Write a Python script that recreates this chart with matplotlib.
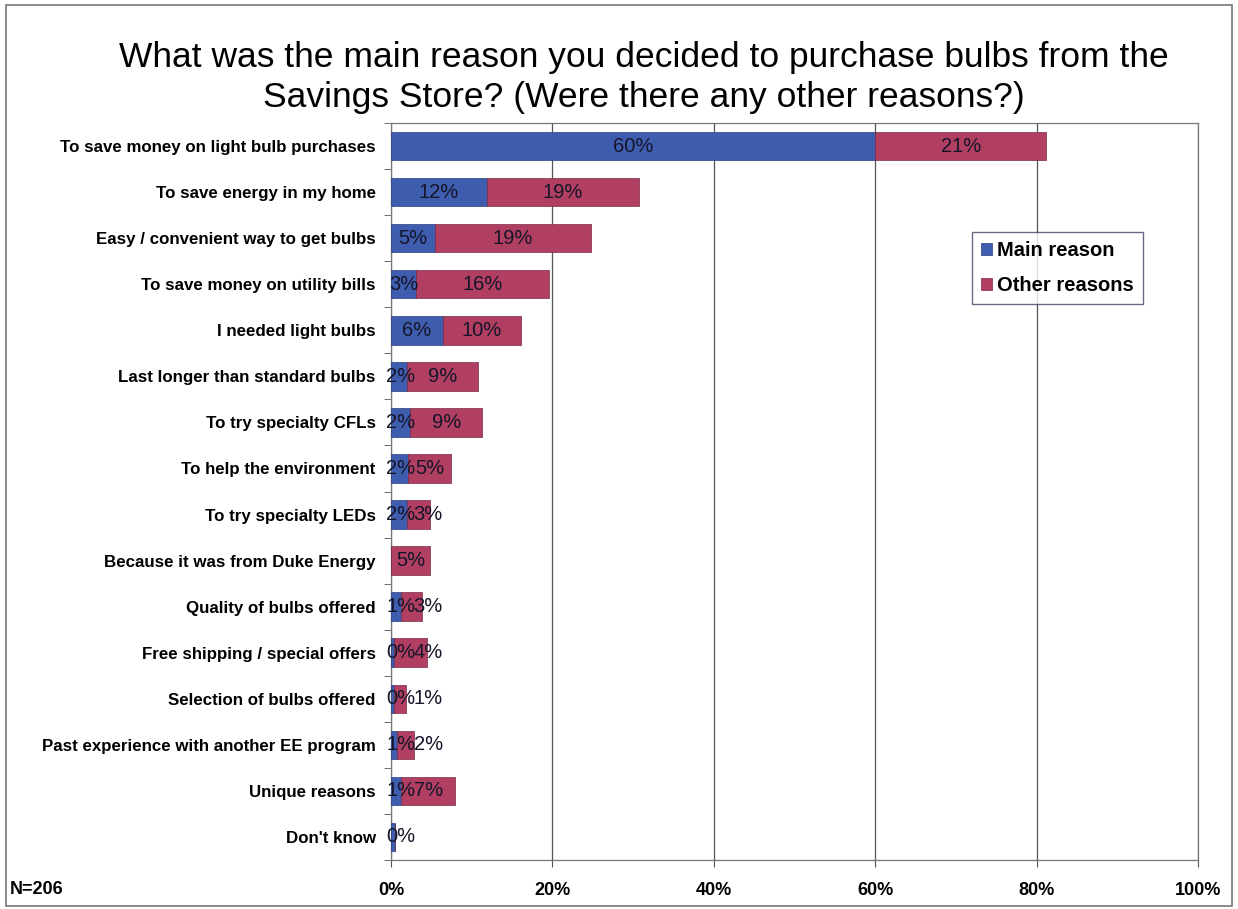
import numpy as np
import matplotlib.pyplot as plt
from matplotlib.patches import Rectangle

plt.rcParams['font.family'] = ['Liberation Sans', 'DejaVu Sans']

reasons = ['To save money on light bulb purchases', 'To save energy in my home',
           'Easy / convenient way to get bulbs', 'To save money on utility bills',
           'I needed light bulbs', 'Last longer than standard bulbs', 'To try specialty CFLs',
           'To help the environment', 'To try specialty LEDs', 'Because it was from Duke Energy',
           'Quality of bulbs offered', 'Free shipping / special offers', 'Selection of bulbs offered',
           'Past experience with another EE program', 'Unique reasons', "Don't know"]
main = [60.0, 11.9, 5.4, 3.1, 6.4, 2.0, 2.4, 2.1, 2.0, 0.0, 1.2, 0.4, 0.4, 0.8, 1.3, 0.45]
other = [21.2, 18.8, 19.4, 16.5, 9.7, 8.8, 8.9, 5.3, 2.8, 4.8, 2.6, 4.1, 1.4, 2.1, 6.6, 0.0]
xticks = [0, 20, 40, 60, 80, 100]

c_main = '#3F5DAE'
c_other = '#B03F62'

fig = plt.figure(figsize=(12.38, 9.09), dpi=100)
ax = fig.add_axes([391 / 1238, 1 - 860 / 909, (1198 - 391) / 1238, (860 - 123) / 909])

y = np.arange(len(reasons))
b1 = ax.barh(y, main, height=0.62, color=c_main, edgecolor='#2A3F80', linewidth=0.5,
             label='Main reason', zorder=3)
b2 = ax.barh(y, other, left=main, height=0.62, color=c_other, edgecolor='#7A2A45', linewidth=0.5,
             label='Other reasons', zorder=3)

# labels centred in segments, nudged apart on the tiny bars
for i in range(len(reasons)):
    xm = max(main[i] / 2, 1.2)
    if main[i] > 0:
        ax.text(xm, i, f'{round(main[i])}%', ha='center', va='center',
                fontsize=14.5, color='#15152A', zorder=4)
    if other[i] > 0:
        xo = main[i] + other[i] / 2
        if main[i] > 0:
            xo = max(xo, xm + 3.4)
        ax.text(xo, i, f'{round(other[i])}%', ha='center', va='center',
                fontsize=14.5, color='#15152A', zorder=4)

ax.set_xlim(0, 100)
ax.set_ylim(len(reasons) - 0.5, -0.5)
ax.set_xticks(xticks)
ax.set_xticklabels([f'{v}%' for v in xticks], fontsize=13, fontweight='bold')
ax.tick_params(axis='x', length=5, pad=11, color='#555555')
ax.set_yticks(y)
ax.set_yticklabels(reasons, fontsize=12.2, fontweight='bold')
ax.tick_params(axis='y', length=0, pad=11)
ax.set_yticks(np.arange(len(reasons) + 1) - 0.5, minor=True)
ax.tick_params(axis='y', which='minor', length=5, color='#555555')
ax.grid(axis='x', color='#555555', linewidth=0.9, zorder=0)
for s in ax.spines.values():
    s.set_color('#777777')
    s.set_linewidth(0.9)

fig.legend(handles=[b1, b2], loc='upper left', bbox_to_anchor=(962 / 1238, 1 - 222 / 909),
           frameon=True, fancybox=False, edgecolor='#444466',
           handlelength=0.55, handleheight=0.55, handletextpad=0.25, borderpad=0.45,
           labelspacing=0.8, prop={'weight': 'bold', 'size': 14.5})

fig.text(644 / 1238, 1 - 57 / 909, 'What was the main reason you decided to purchase bulbs from the',
         ha='center', va='center', fontsize=25.5)
fig.text(644 / 1238, 1 - 98 / 909, 'Savings Store? (Were there any other reasons?)',
         ha='center', va='center', fontsize=25.5)
fig.text(10 / 1238, 1 - 889 / 909, 'N=206', ha='left', va='center', fontsize=13, fontweight='bold')

fig.patches.append(Rectangle((6 / 1238, 3 / 909), 1 - 12 / 1238, 1 - 8 / 909,
                             transform=fig.transFigure, fill=False, edgecolor='#777777', linewidth=1.2))

fig.savefig('out.png', dpi=100)
